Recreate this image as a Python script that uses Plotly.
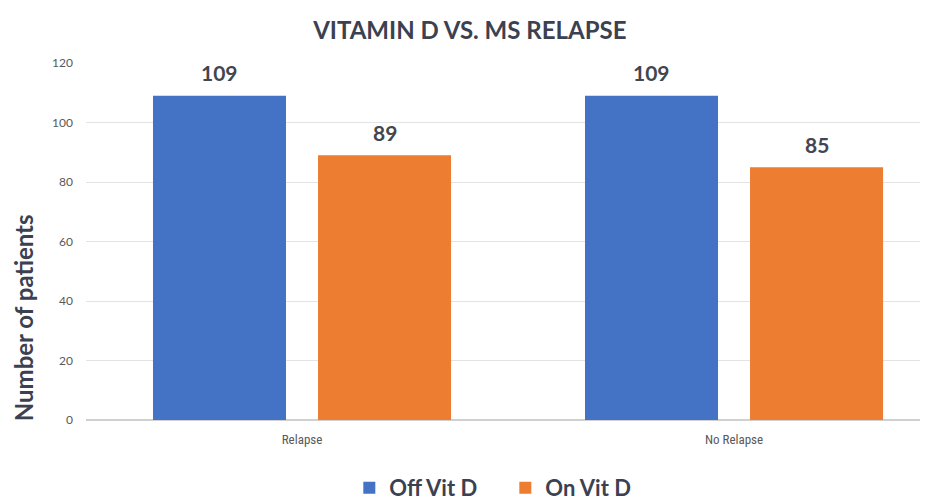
import plotly.graph_objects as go

categories = ["Relapse", "No Relapse"]
off_vit_d = [109, 109]
on_vit_d = [89, 85]
series_names = ["Off Vit D", "On Vit D"]
y_ticks = [0, 20, 40, 60, 80, 100, 120]
y_title = "Number of patients"
chart_title = "VITAMIN D VS. MS RELAPSE"

blue = "#4472C4"
orange = "#ED7D31"
dark = "#3B4150"

# layout constants (pixels)
SLOT_PX = 165.0

fig = go.Figure()
series = [(series_names[0], off_vit_d, blue), (series_names[1], on_vit_d, orange)]
for name, vals, col in series:
    fig.add_trace(go.Bar(
        x=categories, y=vals, name=name, marker=dict(color=col, line=dict(width=0)),
    ))

# value labels placed above each bar
annotations = []
for i, (name, vals, col) in enumerate(series):
    shift = (i - 0.5) * SLOT_PX
    for cat, v in zip(categories, vals):
        annotations.append(dict(
            x=cat, y=v, xref="x", yref="y", text="<b>%d</b>" % v, showarrow=False,
            xshift=shift, yshift=23, xanchor="center", yanchor="middle",
            font=dict(family="Lato, sans-serif", size=21, color="#404652")))

annotations.append(dict(text="<b>" + y_title + "</b>", xref="paper", yref="paper",
                        x=-0.0748, y=0.285, xanchor="center", yanchor="middle",
                        textangle=-90, showarrow=False, borderpad=0,
                        font=dict(family="Lato, Open Sans, sans-serif", size=24, color=dark)))

# page has an 8px body margin, so the figure is sized/positioned to compensate
fig.update_layout(
    width=920, height=494,
    margin=dict(l=78, r=0, t=55, b=82, autoexpand=False),
    paper_bgcolor="white", plot_bgcolor="white",
    barmode="group", bargap=0.236, bargroupgap=0.194,
    title=dict(text="<b>" + chart_title + "</b>", x=0.502, xanchor="center",
               y=0.955, yanchor="middle",
               font=dict(family="Lato, Open Sans, sans-serif", size=24, color=dark)),
    xaxis=dict(range=[-0.5, 1.449], showgrid=False, showline=False, zeroline=False,
               ticks="", ticklabelstandoff=10,
               tickfont=dict(family="Liberation Sans Narrow, Roboto Condensed, Roboto, sans-serif", size=13, color="#595959")),
    yaxis=dict(range=[0, 120], tickvals=y_ticks, showgrid=True, gridcolor="#E3E3E3", gridwidth=1,
               zeroline=True, zerolinecolor="#D0D0D0", zerolinewidth=1.5,
               tickfont=dict(family="Lato, sans-serif", size=12, color="#595959"),
               ticklabelstandoff=12, automargin=False),
    legend=dict(orientation="h", x=0.498, xanchor="center", y=-0.19, yanchor="middle",
                font=dict(family="Lato, Open Sans, sans-serif", size=22, color=dark, weight="bold"),
                itemwidth=30, entrywidth=111, tracegroupgap=0, bgcolor="rgba(0,0,0,0)"),
    showlegend=True,
    annotations=annotations,
)

fig.write_html("out.html")
